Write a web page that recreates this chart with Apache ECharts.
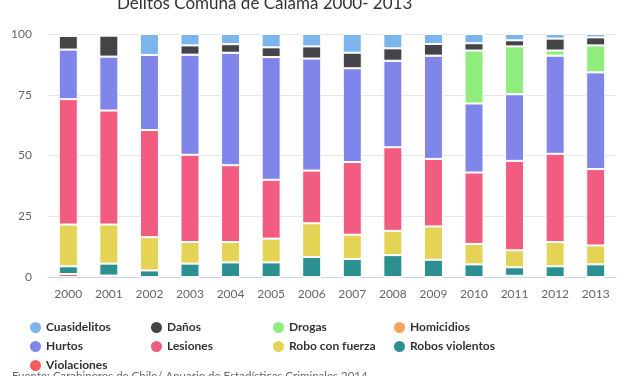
<!DOCTYPE html>
<html lang="es">
<head>
    <meta charset="UTF-8">
    <title>Delitos Comuna de Calama 2000- 2013</title>
    <script src="https://cdn.jsdelivr.net/npm/echarts@6/dist/echarts.min.js"></script>
    <style>
        html, body, #chart {
            width: 627px;
            height: 376px;
            padding: 0;
            margin: 0;
            background: #fff;
        }
    </style>
</head>
<body>
<div id="chart"></div>
<script>
    var years = ["2000", "2001", "2002", "2003", "2004", "2005", "2006", "2007", "2008", "2009", "2010", "2011", "2012", "2013"];

    // percentages per year
    var violaciones    = [1.2, 0.6, 0, 0, 0, 0, 0, 0, 0, 0, 0, 0.5, 0, 0];
    var robosViolentos = [3.2, 4.9, 2.7, 5.5, 6.0, 6.0, 8.2, 7.4, 9.0, 7.1, 5.2, 3.5, 4.4, 5.2];
    var roboConFuerza  = [17.2, 16.1, 13.7, 8.9, 8.4, 9.8, 13.9, 10.0, 10.0, 13.7, 8.4, 7.0, 10.0, 7.8];
    var lesiones       = [51.6, 46.9, 44.1, 35.9, 31.6, 24.2, 21.7, 29.9, 34.4, 27.8, 29.4, 36.8, 36.3, 31.4];
    var hurtos         = [20.4, 22.2, 30.9, 41.2, 46.3, 50.5, 46.1, 38.6, 35.6, 42.5, 28.4, 27.4, 40.4, 39.8];
    var homicidios     = [0, 0, 0, 0, 0, 0, 0, 0, 0, 0, 0, 0, 0, 0];
    var drogas         = [0, 0, 0, 0, 0, 0, 0, 0, 0, 0, 21.8, 19.7, 2.1, 11.1];
    var danos          = [5.6, 8.6, 0, 3.8, 3.5, 4.0, 5.0, 6.4, 5.1, 4.8, 3.0, 2.5, 4.9, 3.3];
    var cuasidelitos   = [0.8, 0.7, 8.6, 4.7, 4.2, 5.5, 5.1, 7.7, 5.9, 4.1, 3.8, 2.6, 1.9, 1.4];

    var yTicks = [0, 25, 50, 75, 100];

    // legend order as shown (4 columns, filled row by row)
    var legendNames = ["Cuasidelitos", "Daños", "Drogas", "Homicidios", "Hurtos", "Lesiones", "Robo con fuerza", "Robos violentos", "Violaciones"];

    var chart = echarts.init(document.getElementById("chart"));

    function bar(name, data, color) {
        return {
            name: name,
            type: "bar",
            stack: "total",
            data: data,
            barWidth: 19,
            itemStyle: {color: color, borderColor: "#fff", borderWidth: 1},
            emphasis: {disabled: true}
        };
    }

    var colLeft = [28, 149, 271, 392];
    var legends = legendNames.map(function (name, i) {
        return {
            left: colLeft[i % 4],
            top: 320 + Math.floor(i / 4) * 19,
            icon: "circle",
            itemWidth: 13,
            itemHeight: 13,
            itemGap: 0,
            padding: 0,
            textStyle: {fontFamily: "Lato", fontSize: 12, fontWeight: "bold", color: "#333", padding: [0, 0, 0, -1]},
            data: [name]
        };
    });

    chart.setOption({
        animation: false,
        title: [{
            text: "Delitos Comuna de Calama 2000- 2013",
            left: 112,
            top: -10,
            textStyle: {fontFamily: "Lato", fontSize: 17, fontWeight: "normal", color: "#333"}
        }, {
            text: "Fuente: Carabineros de Chile/ Anuario de Estadísticas Criminales 2014",
            left: 7,
            top: 365,
            textStyle: {fontFamily: "Lato", fontSize: 11.5, fontWeight: "normal", color: "#666"}
        }],
        legend: legends,
        grid: {left: 48, right: 11, top: 34, bottom: 99},
        xAxis: {
            type: "category",
            data: years,
            axisLine: {lineStyle: {color: "#ccd6eb"}},
            axisTick: {show: false},
            axisLabel: {fontFamily: "Lato", fontSize: 12, color: "#666", margin: 11}
        },
        yAxis: {
            type: "value",
            min: yTicks[0],
            max: yTicks[yTicks.length - 1],
            interval: 25,
            axisLabel: {fontFamily: "Lato", fontSize: 12, color: "#666", margin: 16},
            splitLine: {lineStyle: {color: "#e6e6e6"}}
        },
        series: [
            bar("Violaciones", violaciones, "#f45b5b"),
            bar("Robos violentos", robosViolentos, "#2b908f"),
            bar("Robo con fuerza", roboConFuerza, "#e4d354"),
            bar("Lesiones", lesiones, "#f15c80"),
            bar("Hurtos", hurtos, "#8085e9"),
            bar("Homicidios", homicidios, "#f7a35c"),
            bar("Drogas", drogas, "#90ed7d"),
            bar("Daños", danos, "#434348"),
            bar("Cuasidelitos", cuasidelitos, "#7cb5ec")
        ]
    });
</script>
</body>
</html>
